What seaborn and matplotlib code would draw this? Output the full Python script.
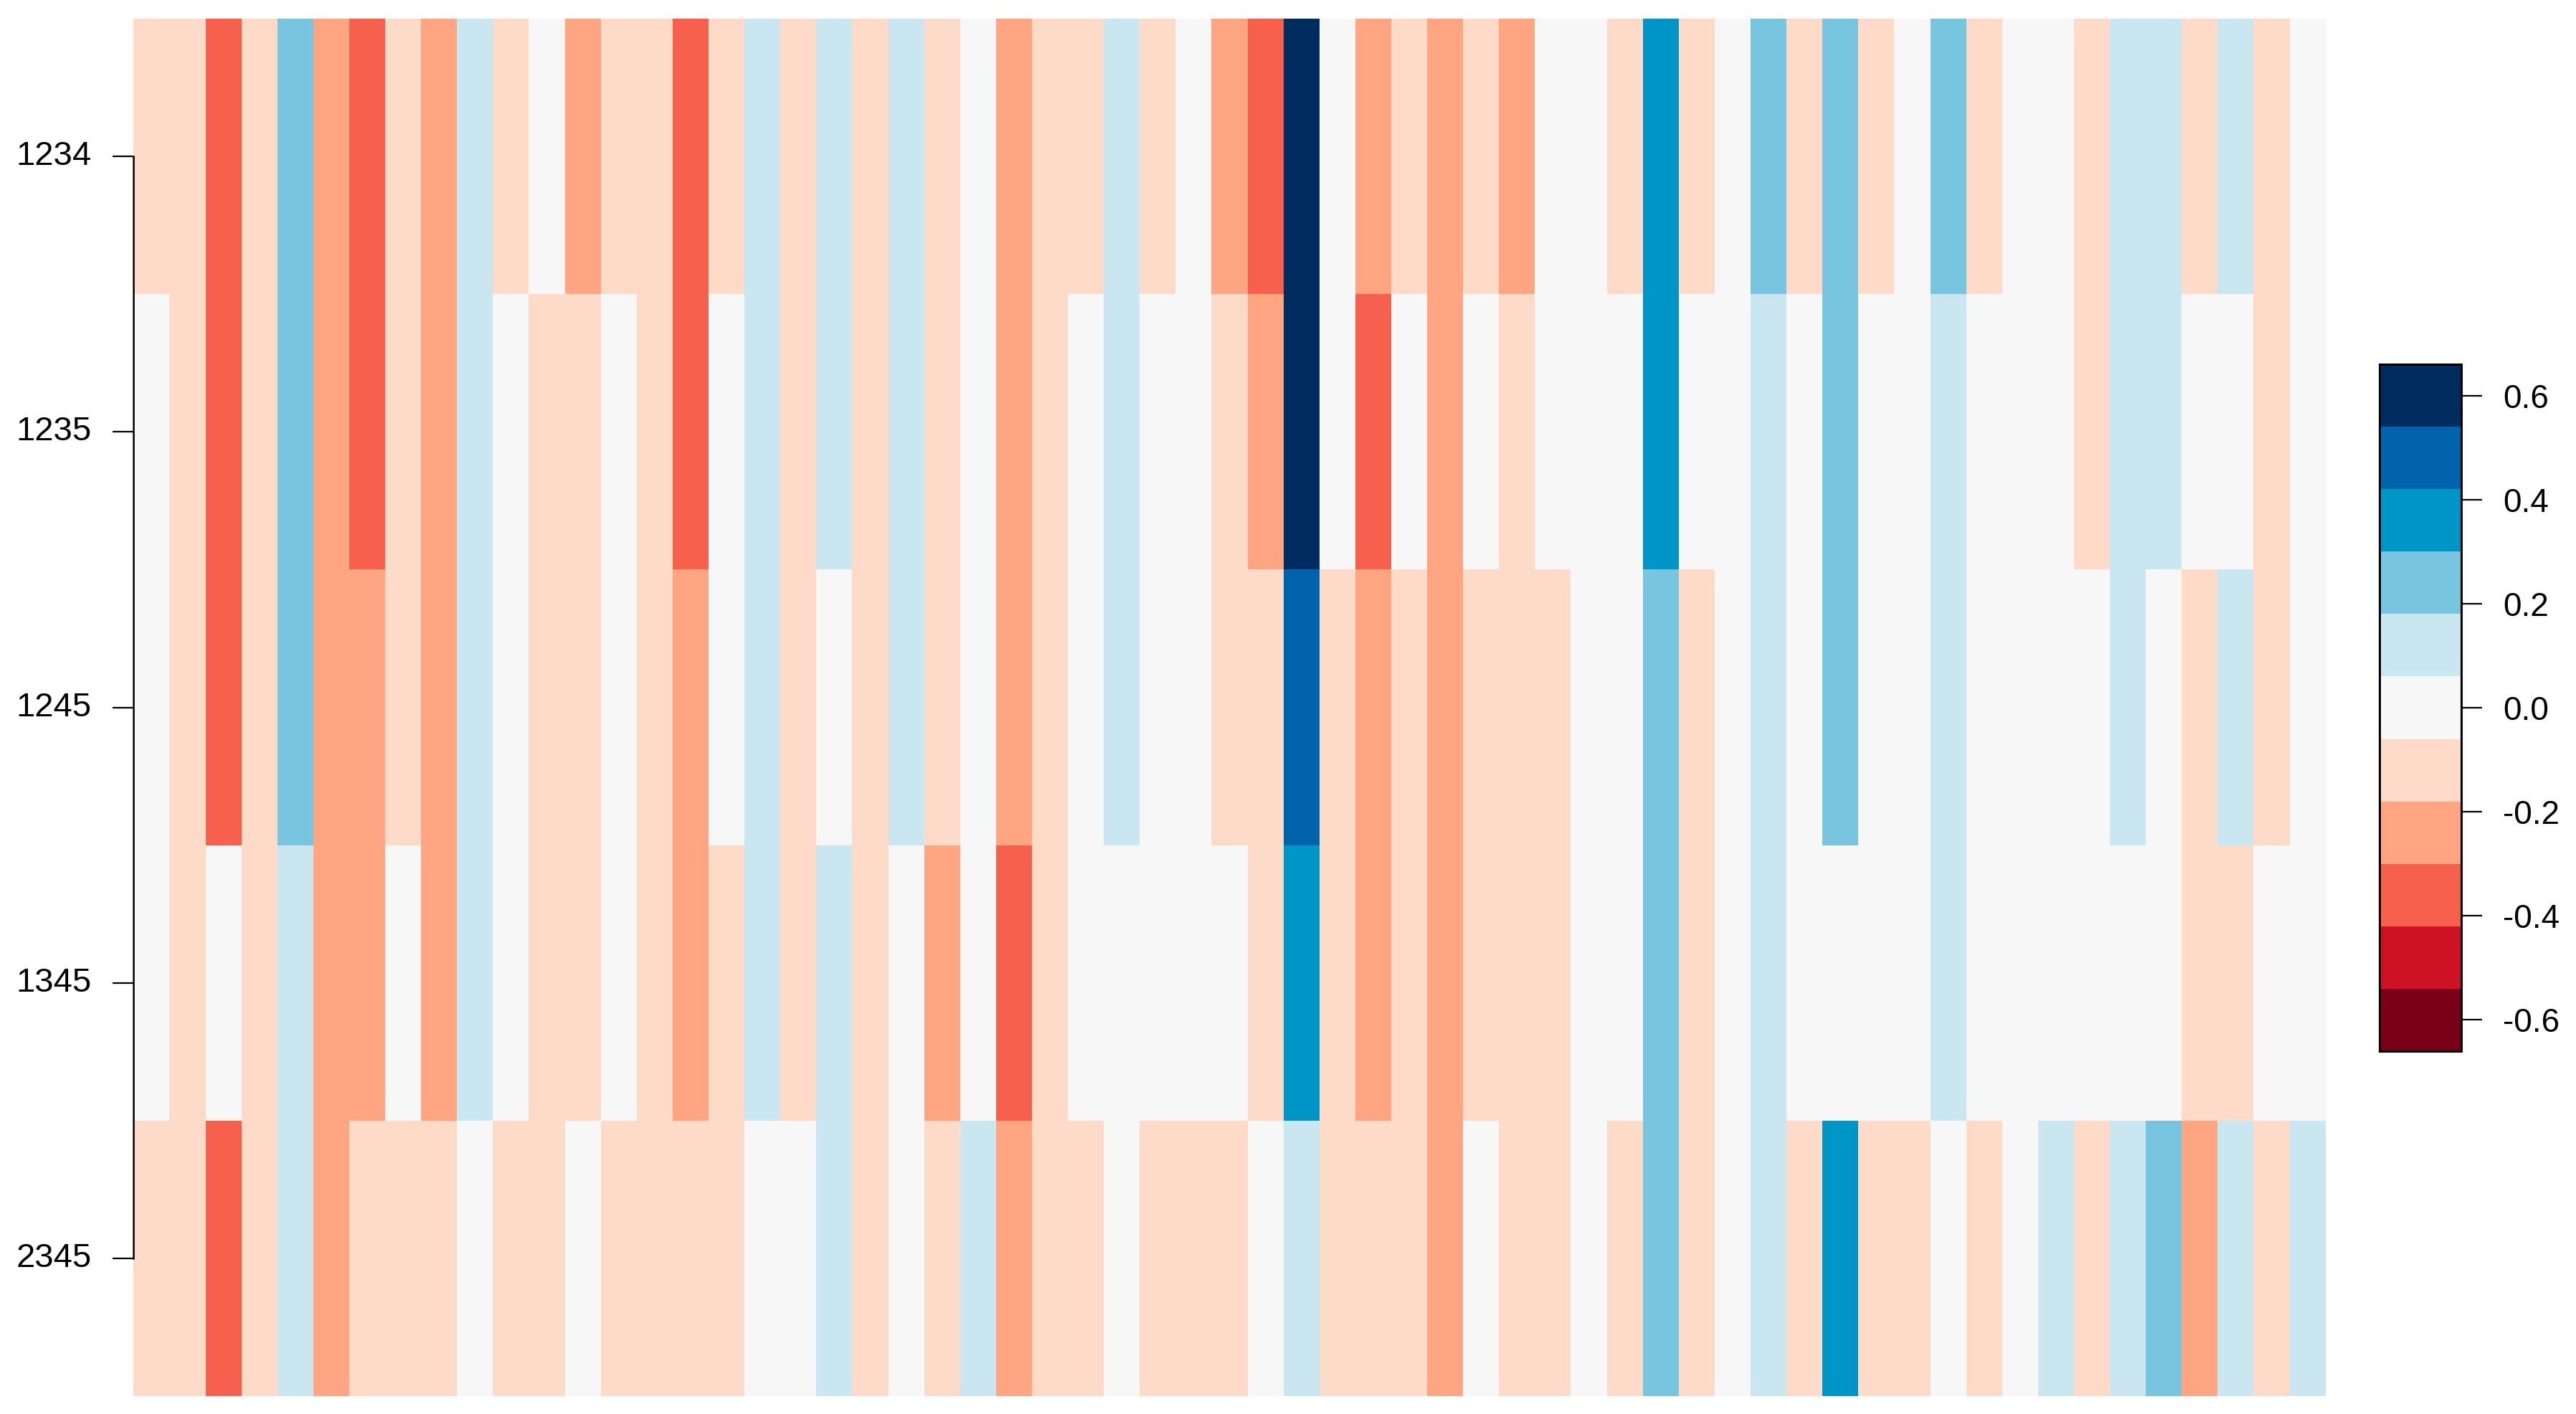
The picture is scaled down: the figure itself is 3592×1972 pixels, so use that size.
import numpy as np
import pandas as pd
import matplotlib
matplotlib.use("Agg")
import matplotlib.pyplot as plt
from matplotlib.colors import ListedColormap, BoundaryNorm
import seaborn as sns

# ---- data ----
row_labels = ["1234", "1235", "1245", "1345", "2345"]

row_1234 = [-0.12, -0.12, -0.36, -0.12, 0.24, -0.24, -0.36, -0.12, -0.24, 0.12,
            -0.12, 0.0, -0.24, -0.12, -0.12, -0.36, -0.12, 0.12, -0.12, 0.12,
            -0.12, 0.12, -0.12, 0.0, -0.24, -0.12, -0.12, 0.12, -0.12, 0.0,
            -0.24, -0.36, 0.6, 0.0, -0.24, -0.12, -0.24, -0.12, -0.24, 0.0,
            0.0, -0.12, 0.36, -0.12, 0.0, 0.24, -0.12, 0.24, -0.12, 0.0,
            0.24, -0.12, 0.0, 0.0, -0.12, 0.12, 0.12, -0.12, 0.12, -0.12, 0.0]
row_1235 = [0.0, -0.12, -0.36, -0.12, 0.24, -0.24, -0.36, -0.12, -0.24, 0.12,
            0.0, -0.12, -0.12, 0.0, -0.12, -0.36, 0.0, 0.12, -0.12, 0.12,
            -0.12, 0.12, -0.12, 0.0, -0.24, -0.12, 0.0, 0.12, 0.0, 0.0,
            -0.12, -0.24, 0.6, 0.0, -0.36, 0.0, -0.24, 0.0, -0.12, 0.0,
            0.0, 0.0, 0.36, 0.0, 0.0, 0.12, 0.0, 0.24, 0.0, 0.0,
            0.12, 0.0, 0.0, 0.0, -0.12, 0.12, 0.12, 0.0, 0.0, -0.12, 0.0]
row_1245 = [0.0, -0.12, -0.36, -0.12, 0.24, -0.24, -0.24, -0.12, -0.24, 0.12,
            0.0, -0.12, -0.12, 0.0, -0.12, -0.24, 0.0, 0.12, -0.12, 0.0,
            -0.12, 0.12, -0.12, 0.0, -0.24, -0.12, 0.0, 0.12, 0.0, 0.0,
            -0.12, -0.12, 0.48, -0.12, -0.24, -0.12, -0.24, -0.12, -0.12, -0.12,
            0.0, 0.0, 0.24, -0.12, 0.0, 0.12, 0.0, 0.24, 0.0, 0.0,
            0.12, 0.0, 0.0, 0.0, 0.0, 0.12, 0.0, -0.12, 0.12, -0.12, 0.0]
row_1345 = [0.0, -0.12, 0.0, -0.12, 0.12, -0.24, -0.24, 0.0, -0.24, 0.12,
            0.0, -0.12, -0.12, 0.0, -0.12, -0.24, -0.12, 0.12, -0.12, 0.12,
            -0.12, 0.0, -0.24, 0.0, -0.36, -0.12, 0.0, 0.0, 0.0, 0.0,
            0.0, -0.12, 0.36, -0.12, -0.24, -0.12, -0.24, -0.12, -0.12, -0.12,
            0.0, 0.0, 0.24, -0.12, 0.0, 0.12, 0.0, 0.0, 0.0, 0.0,
            0.12, 0.0, 0.0, 0.0, 0.0, 0.0, 0.0, -0.12, -0.12, 0.0, 0.0]
row_2345 = [-0.12, -0.12, -0.36, -0.12, 0.12, -0.24, -0.12, -0.12, -0.12, 0.0,
            -0.12, -0.12, 0.0, -0.12, -0.12, -0.12, -0.12, 0.0, 0.0, 0.12,
            -0.12, 0.0, -0.12, 0.12, -0.24, -0.12, -0.12, 0.0, -0.12, -0.12,
            -0.12, 0.0, 0.12, -0.12, -0.12, -0.12, -0.24, 0.0, -0.12, -0.12,
            0.0, -0.12, 0.24, -0.12, 0.0, 0.12, -0.12, 0.36, -0.12, -0.12,
            0.0, -0.12, 0.0, 0.12, -0.12, 0.12, 0.24, -0.24, 0.12, -0.12, 0.12]

cbar_ticks = [-0.6, -0.4, -0.2, 0.0, 0.2, 0.4, 0.6]
cbar_ticklabels = ["-0.6", "-0.4", "-0.2", "0.0", "0.2", "0.4", "0.6"]

level_colors = ["#7A0018", "#CF1126", "#F6604D", "#FFA581", "#FEDBC8",
                "#F7F7F7", "#CAE6F1", "#78C5DF", "#0095C7", "#0063AC", "#002C5F"]
level_bounds = [-0.66, -0.54, -0.42, -0.30, -0.18, -0.06, 0.06, 0.18, 0.30, 0.42, 0.54, 0.66]

df = pd.DataFrame([row_1234, row_1235, row_1245, row_1345, row_2345], index=row_labels)

# ---- plot ----
sns.set_style("white")
plt.rcParams["font.family"] = ["Liberation Sans", "DejaVu Sans"]

W, H = 3592, 1972
fig = plt.figure(figsize=(W / 100, H / 100), dpi=100)
ax = fig.add_axes([186.3 / W, 1 - 1947 / H, (3242.7 - 186.3) / W, (1947 - 26) / H])
cax = fig.add_axes([3318 / W, 1 - 1466 / H, 114 / W, (1466 - 508) / H])

cmap = ListedColormap(level_colors)
norm = BoundaryNorm(level_bounds, cmap.N)

sns.heatmap(df, ax=ax, cmap=cmap, norm=norm, cbar_ax=cax,
            xticklabels=False, yticklabels=row_labels, linewidths=0)

# y axis R-style
ax.spines["left"].set_visible(True)
ax.spines["left"].set_color("black")
ax.spines["left"].set_linewidth(1.8)
ax.spines["left"].set_bounds(0.5, 4.5)
for s in ["top", "right", "bottom"]:
    ax.spines[s].set_visible(False)
ax.tick_params(axis="y", which="both", left=True, direction="out", length=21,
               width=1.6, color="black", pad=21, labelsize=34, labelcolor="black")
for t in ax.get_yticklabels():
    t.set_rotation(0)
    t.set_va("center")
ax.tick_params(axis="x", bottom=False, labelbottom=False)
ax.set_xlabel("")
ax.set_ylabel("")

# colorbar
cb = ax.collections[0].colorbar
cb.set_ticks(cbar_ticks)
cb.set_ticklabels(cbar_ticklabels)
cb.outline.set_visible(True)
cb.outline.set_linewidth(2.2)
cb.outline.set_edgecolor("black")
cax.tick_params(axis="y", which="major", right=True, direction="out", length=21,
                width=1.6, color="black", pad=21, labelsize=33, labelcolor="black")
cax.tick_params(axis="y", which="minor", right=False, left=False)

fig.savefig("out.png", dpi=100)
